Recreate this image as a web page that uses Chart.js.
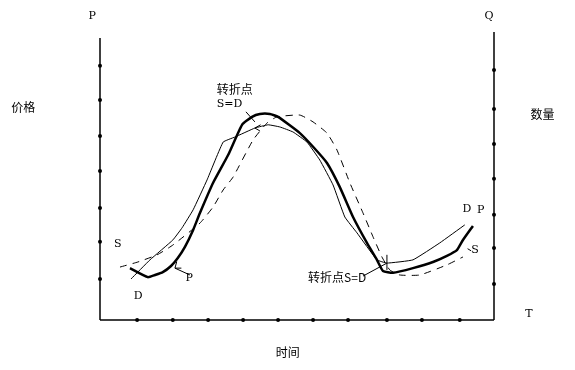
<!DOCTYPE html>
<html>
<head>
<meta charset="utf-8">
<script src="https://cdn.jsdelivr.net/npm/chart.js@4/dist/chart.umd.min.js"></script>
<style>
  html, body { margin: 0; padding: 0; background: #fff; }
  #wrap { width: 575px; height: 370px; position: relative; }
</style>
</head>
<body>
<div id="wrap"><canvas id="cycleChart" width="575" height="370"></canvas></div>
<script>
// axis extents (time units / price units)
const xMax = 11.04;
const yMax = 7.83;
const yMaxRight = 8.0;

// dots on the axes
const timeTicks = [1.04, 2.04, 3.03, 4.01, 4.99, 5.97, 6.95, 8.04, 9.02, 10.08];
const priceTicks = [1.14, 2.17, 3.11, 4.14, 5.11, 6.11, 7.06];
const qtyTicks = [1.0, 2.0, 2.92, 3.92, 4.89, 5.86, 6.94];

// P - price (thick line)
const pX = [0.84, 1.34, 1.54, 1.76, 1.99, 2.18, 2.38, 2.61, 2.80, 3.17, 3.59, 3.98, 4.26, 4.48, 4.76, 4.99, 5.60, 5.97, 6.36, 6.72, 7.09, 7.48, 7.76, 7.93, 8.21, 8.77, 9.33, 9.72, 10.0, 10.17, 10.45];
const pY = [1.44, 1.19, 1.25, 1.33, 1.50, 1.72, 2.03, 2.50, 2.97, 3.81, 4.58, 5.42, 5.64, 5.72, 5.72, 5.64, 5.19, 4.81, 4.36, 3.69, 2.86, 2.14, 1.67, 1.36, 1.31, 1.44, 1.61, 1.78, 1.94, 2.22, 2.61];

// D - demand (thin line)
const dX = [0.87, 1.40, 2.04, 2.30, 2.61, 3.00, 3.45, 3.78, 4.34, 4.71, 5.04, 5.41, 5.80, 6.16, 6.53, 6.86, 7.20, 7.76, 8.04, 8.77, 9.52, 10.22];
const dY = [1.14, 1.67, 2.22, 2.56, 3.06, 3.89, 4.94, 5.08, 5.33, 5.42, 5.36, 5.22, 4.94, 4.44, 3.75, 2.86, 2.42, 1.67, 1.58, 1.67, 2.14, 2.64];

// S - supply (dashed line)
const sX = [0.56, 1.06, 1.60, 2.04, 2.80, 3.17, 3.45, 3.73, 4.29, 4.68, 4.96, 5.60, 5.97, 6.36, 6.64, 7.00, 7.37, 7.65, 7.90, 8.12, 8.40, 8.96, 9.72, 10.17];
const sY = [1.47, 1.61, 1.81, 2.08, 2.69, 3.14, 3.61, 3.97, 5.00, 5.47, 5.64, 5.69, 5.50, 5.19, 4.72, 3.81, 2.97, 2.31, 1.75, 1.39, 1.25, 1.25, 1.53, 1.75];

const zip = (xs, ys) => xs.map((x, i) => ({ x: x, y: ys[i] }));
const ink = '#000';

// text labels and leader lines, in data units
const labels = [
  { t: 'P', x: -0.22, y: 8.45, f: 'latin' },
  { t: '价格', x: -2.15, y: 5.9, f: 'cjk' },
  { t: 'Q', x: 10.9, y: 8.45, f: 'latin' },
  { t: '数量', x: 12.4, y: 5.7, f: 'cjk' },
  { t: 'T', x: 12.02, y: 0.17, f: 'latin' },
  { t: '时间', x: 5.26, y: -0.91, f: 'cjk' },
  { t: '转折点', x: 3.27, y: 6.4, f: 'cjk', align: 'left' },
  { t: 'S=D', x: 3.27, y: 6.0, f: 'latin', align: 'left' },
  { t: 'S', x: 0.5, y: 2.1, f: 'latin' },
  { t: 'D', x: 1.07, y: 0.67, f: 'latin' },
  { t: 'P', x: 2.5, y: 1.17, f: 'latin' },
  { t: '转折点S=D', x: 5.83, y: 1.17, f: 'cjk', align: 'left' },
  { t: 'D', x: 10.28, y: 3.08, f: 'latin' },
  { t: 'P', x: 10.67, y: 3.06, f: 'latin' },
  { t: 'S', x: 10.51, y: 1.95, f: 'latin' }
];
const leaders = [
  [[4.09, 5.78], [4.34, 5.5]],
  [[2.52, 1.25], [2.1, 1.44]],
  [[2.1, 1.44], [2.15, 1.62]],
  [[2.1, 1.44], [2.28, 1.44]],
  [[7.37, 1.22], [8.04, 1.58]],
  [[8.04, 1.39], [8.04, 1.81]],
  [[10.3, 1.98], [10.4, 1.92]],
  [[4.34, 5.33], [4.5, 5.42]],
  [[4.34, 5.33], [4.48, 5.25]]
];

const labelPlugin = {
  id: 'labelPlugin',
  afterDatasetsDraw(chart) {
    const { ctx, scales: { x, y } } = chart;
    ctx.save();
    ctx.strokeStyle = ink;
    ctx.lineWidth = 1;
    leaders.forEach(seg => {
      ctx.beginPath();
      ctx.moveTo(x.getPixelForValue(seg[0][0]), y.getPixelForValue(seg[0][1]));
      ctx.lineTo(x.getPixelForValue(seg[1][0]), y.getPixelForValue(seg[1][1]));
      ctx.stroke();
    });
    ctx.fillStyle = ink;
    ctx.textBaseline = 'middle';
    labels.forEach(l => {
      ctx.font = l.f === 'cjk' ? '12px "Noto Sans CJK SC"' : '11px "DejaVu Serif"';
      ctx.textAlign = l.align || 'center';
      ctx.fillText(l.t, x.getPixelForValue(l.x), y.getPixelForValue(l.y));
    });
    ctx.restore();
  }
};

const axisLine = (pts) => ({
  data: pts, showLine: true, borderColor: ink, borderWidth: 1.5,
  pointRadius: 0, fill: false
});
const dots = (pts) => ({
  data: pts, showLine: false, backgroundColor: ink, borderColor: ink,
  pointRadius: 2, pointBorderWidth: 0
});

new Chart(document.getElementById('cycleChart'), {
  type: 'scatter',
  data: {
    datasets: [
      axisLine([{ x: 0, y: 0 }, { x: 0, y: yMax }]),
      axisLine([{ x: 0, y: 0 }, { x: xMax, y: 0 }]),
      axisLine([{ x: xMax, y: 0 }, { x: xMax, y: yMaxRight }]),
      dots(timeTicks.map(t => ({ x: t, y: 0 }))),
      dots(priceTicks.map(v => ({ x: 0, y: v }))),
      dots(qtyTicks.map(v => ({ x: xMax, y: v }))),
      { label: 'S', data: zip(sX, sY), showLine: true, borderColor: ink, borderWidth: 1, borderDash: [7, 6], pointRadius: 0, tension: 0.15 },
      { label: 'D', data: zip(dX, dY), showLine: true, borderColor: ink, borderWidth: 1, pointRadius: 0, tension: 0.1 },
      { label: 'P', data: zip(pX, pY), showLine: true, borderColor: ink, borderWidth: 2.5, pointRadius: 0, tension: 0.15 }
    ]
  },
  options: {
    responsive: false,
    animation: false,
    layout: { padding: { left: 100, right: 81, top: 38, bottom: 50 } },
    scales: {
      x: { type: 'linear', min: 0, max: xMax, display: false },
      y: { type: 'linear', min: 0, max: yMax, display: false }
    },
    plugins: { legend: { display: false }, tooltip: { enabled: false } },
    clip: false
  },
  plugins: [labelPlugin]
});
</script>
</body>
</html>
